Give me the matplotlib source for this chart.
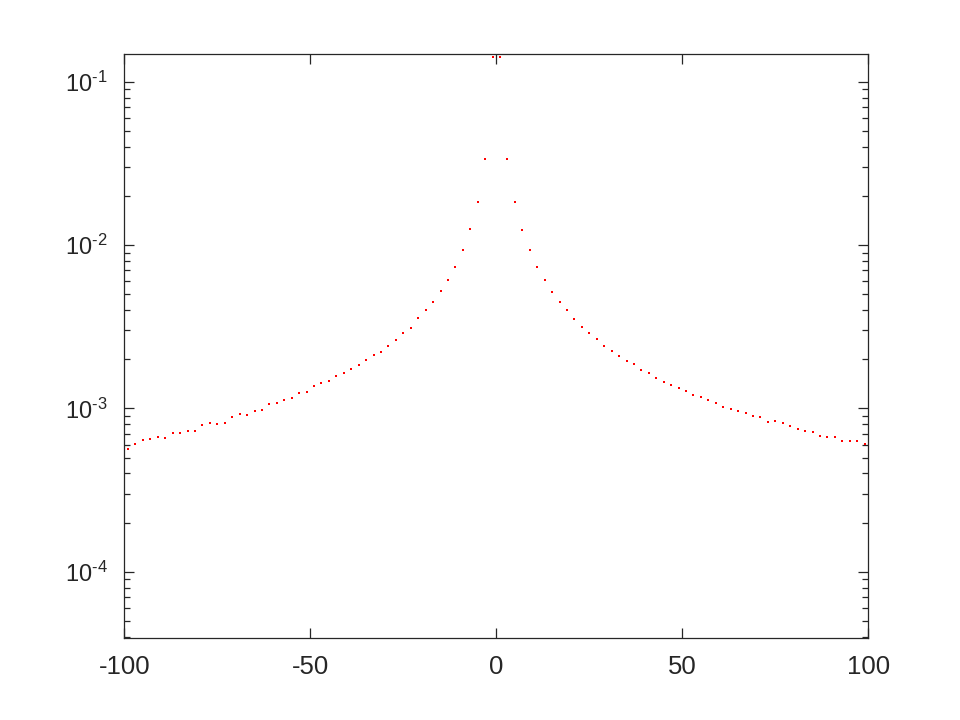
import numpy as np
import matplotlib
matplotlib.use("Agg")
import matplotlib.pyplot as plt
from matplotlib.ticker import LogLocator, FixedLocator, NullFormatter, FuncFormatter

plt.rcParams['font.family'] = ['Liberation Sans', 'DejaVu Sans']
plt.rcParams['mathtext.fontset'] = 'custom'
plt.rcParams['mathtext.rm'] = 'Liberation Sans'
plt.rcParams['mathtext.it'] = 'Liberation Sans'
plt.rcParams['mathtext.default'] = 'regular'
plt.rcParams['axes.unicode_minus'] = False

# x positions: odd integers from -99 to 99
x_values = list(range(-99, 100, 2))

# y values (log scale)
y_values = [
    5.64e-4, 6.08e-4, 6.37e-4, 6.46e-4, 6.68e-4, 6.58e-4, 7.10e-4, 7.10e-4, 7.30e-4, 7.27e-4,
    7.87e-4, 8.17e-4, 8.05e-4, 8.17e-4, 8.82e-4, 9.27e-4, 9.15e-4, 9.67e-4, 9.73e-4, 1.063e-3,
    1.078e-3, 1.120e-3, 1.162e-3, 1.236e-3, 1.264e-3, 1.376e-3, 1.423e-3, 1.470e-3, 1.571e-3, 1.653e-3,
    1.749e-3, 1.843e-3, 1.986e-3, 2.131e-3, 2.223e-3, 2.419e-3, 2.633e-3, 2.905e-3, 3.117e-3, 3.590e-3,
    4.001e-3, 4.460e-3, 5.21e-3, 6.08e-3, 7.33e-3, 9.36e-3, 1.248e-2, 1.842e-2, 3.38e-2, 0.141,
    0.141, 3.36e-2, 1.842e-2, 1.241e-2, 9.32e-3, 7.33e-3, 6.11e-3, 5.18e-3, 4.48e-3, 4.02e-3,
    3.524e-3, 3.162e-3, 2.905e-3, 2.659e-3, 2.409e-3, 2.245e-3, 2.092e-3, 1.950e-3, 1.877e-3, 1.717e-3,
    1.653e-3, 1.541e-3, 1.456e-3, 1.390e-3, 1.332e-3, 1.271e-3, 1.202e-3, 1.179e-3, 1.125e-3, 1.083e-3,
    1.019e-3, 9.95e-4, 9.67e-4, 9.40e-4, 8.94e-4, 8.89e-4, 8.28e-4, 8.33e-4, 8.17e-4, 7.77e-4,
    7.45e-4, 7.24e-4, 7.20e-4, 6.80e-4, 6.65e-4, 6.71e-4, 6.31e-4, 6.31e-4, 6.31e-4, 6.03e-4,
]

x_ticks = [-100, -50, 0, 50, 100]
x_tick_labels = ['-100', '-50', '0', '50', '100']

fig = plt.figure(figsize=(9.6, 7.2), dpi=100)
ax = fig.add_axes([0.1295, 0.114, 0.775, 0.811])

ax.plot(x_values, y_values, linestyle='none', marker='s', markersize=1.6,
        markeredgewidth=0, color='#ff0000')

ax.set_yscale('log')
ax.set_xlim(-100, 100)
ax.set_ylim(3.93e-5, 0.148)

ax.xaxis.set_major_locator(FixedLocator(x_ticks))
ax.set_xticklabels(x_tick_labels)
ax.yaxis.set_major_locator(LogLocator(base=10, numticks=10))
ax.yaxis.set_minor_locator(LogLocator(base=10, subs=np.arange(2, 10), numticks=20))
ax.yaxis.set_minor_formatter(NullFormatter())


def log_fmt(v, pos):
    e = int(round(np.log10(v)))
    if e < 0:
        return r'$10^{\text{-}%d}$' % (-e)
    return r'$10^{%d}$' % e


ax.yaxis.set_major_formatter(FuncFormatter(log_fmt))

col = '#262626'
for s in ax.spines.values():
    s.set_color(col)
    s.set_linewidth(0.9)
ax.tick_params(which='both', direction='in', top=True, right=True, colors=col,
               labelcolor=col)
ax.tick_params(axis='x', which='major', labelsize=18.5, pad=12)
ax.tick_params(axis='y', which='major', labelsize=17, pad=12)
ax.tick_params(which='major', length=7, width=0.9)
ax.tick_params(which='minor', length=4, width=0.9)

fig.savefig('out.png', dpi=100, facecolor='white')
